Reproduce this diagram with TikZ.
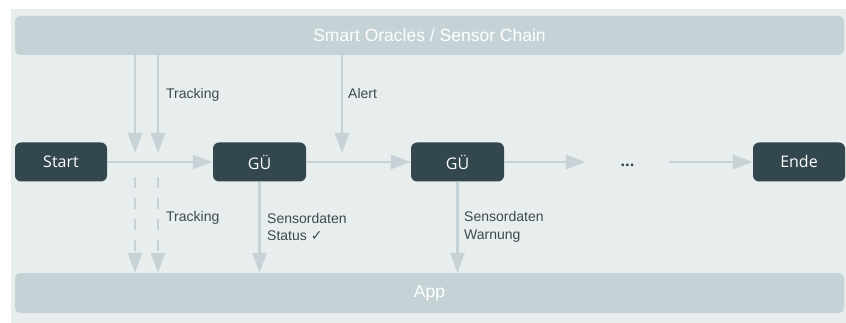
\documentclass[tikz,border=0pt]{standalone}
\usepackage{fontspec}
\setmainfont{Liberation Sans}
\newfontfamily\boxfont{Open Sans}
\newfontfamily\symfont{DejaVu Sans}
\usetikzlibrary{arrows.meta}
\definecolor{bgc}{HTML}{E8EDEE}
\definecolor{barc}{HTML}{C5D2D6}
\definecolor{arrc}{HTML}{C6D2D6}
\definecolor{darkc}{HTML}{33474E}
\definecolor{lblc}{HTML}{3C4A50}
\tikzset{
  bar/.style={fill=barc, rounded corners=5pt, inner sep=0pt, text=white, font=\fontsize{17.5}{20}\selectfont},
  stepbox/.style={fill=darkc, rounded corners=6pt, minimum height=39pt, minimum width=92pt, inner sep=0pt, text=white, font=\boxfont\fontsize{16}{18}\selectfont},
  flow/.style={draw=arrc, line width=2.7pt, -{Triangle[length=20pt,width=14pt]}},
  dflow/.style={flow, dash pattern=on 11pt off 10pt},
  lbl/.style={text=lblc, anchor=west, align=left, inner sep=0pt, font=\fontsize{14}{17.5}\selectfont},
}
\begin{document}
\begin{tikzpicture}[x=1pt,y=-1pt]
\useasboundingbox (0,0) rectangle (846,323);
\fill[bgc] (11,9) rectangle (846,323);
% bars
\node[bar, minimum width=829pt, minimum height=39pt] (chain) at (429.5,35.5) {Smart Oracles / Sensor Chain};
\node[bar, minimum width=829pt, minimum height=40pt] (app) at (429.5,293) {App};
% step boxes
\node[stepbox] (start) at (61,162) {Start};
\node[stepbox, minimum width=93pt] (gu1) at (259.5,162) {GÜ};
\node[stepbox, minimum width=93pt] (gu2) at (457.5,162) {GÜ};
\node[inner sep=0pt, minimum width=83pt, text=darkc, font=\boxfont\bfseries\fontsize{16}{16}\selectfont] (dots) at (627.5,165) {...};
\node[stepbox] (ende) at (799,162) {Ende};
% horizontal flow
\draw[flow] (start.east) -- (gu1.west);
\draw[flow] (gu1.east) -- (gu2.west);
\draw[flow] (gu2.east) -- (gu2.east -| dots.west);
\draw[flow] (ende.west -| dots.east) -- (ende.west);
% from sensor chain
\coordinate (t1) at (135,153);
\coordinate (t2) at (158,153);
\coordinate (al) at (342,153);
\draw[flow] (chain.south -| t1) -- (t1);
\draw[flow] (chain.south -| t2) -- (t2);
\draw[flow] (chain.south -| al) -- (al);
\node[lbl] (trk1) at (166,95) {Tracking};
\node[lbl] (alert) at (348,93) {Alert};
% to app
\coordinate (d1) at (135,177);
\coordinate (d2) at (158,177);
\draw[dflow] (d1) -- (d1 |- app.north);
\draw[dflow] (d2) -- (d2 |- app.north);
\node[lbl] (trk2) at (166,218) {Tracking};
\draw[flow] (gu1.south) -- (gu1.south |- app.north);
\draw[flow] (gu2.south) -- (gu2.south |- app.north);
\node[lbl] (s1) at (267,227) {Sensordaten\\Status {\symfont\fontsize{14}{14}\selectfont ✓}};
\node[lbl] (s2) at (464,227) {Sensordaten\\Warnung};
\end{tikzpicture}
\end{document}
